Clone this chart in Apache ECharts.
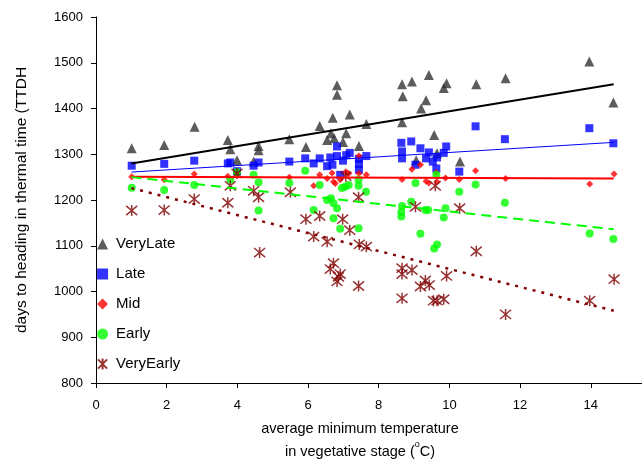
<!DOCTYPE html>
<html>
<head>
<meta charset="utf-8">
<script src="https://cdn.jsdelivr.net/npm/echarts@6/dist/echarts.min.js"></script>
<style>
html, body { margin: 0; padding: 0; background: #fff; }
#chart { width: 642px; height: 459px; }
</style>
</head>
<body>
<div id="chart"></div>
<script>
// points: [avg min temperature, days to heading (TTDH)]
var veryLate = [[1.01,1313],[1.93,1320],[2.79,1360],[3.73,1331],[3.80,1311],[3.99,1287],[4.46,1284],[4.6,1318],[4.6,1309],[5.47,1333],[5.94,1316],[6.33,1362],[6.70,1380],[6.82,1451],[6.82,1430],[6.65,1346],[6.74,1335],[6.54,1331],[6.99,1327],[7.08,1346],[7.18,1387],[7.44,1318],[7.65,1366],[8.66,1453],[8.68,1427],[8.66,1370],[8.94,1459],[9.42,1473],[9.92,1455],[9.84,1445],[9.34,1418],[9.2,1400],[9.57,1342],[9.06,1287],[9.65,1302],[10.3,1284],[10.76,1453],[11.59,1466],[13.96,1503],[14.64,1413]];
var late = [[1.01,1275],[1.93,1279],[2.78,1286],[3.73,1280],[3.80,1282],[3.99,1263],[4.46,1275],[4.6,1282],[5.47,1284],[5.92,1291],[6.16,1280],[6.33,1291],[6.54,1274],[6.63,1293],[6.69,1277],[6.82,1317],[6.82,1296],[6.99,1286],[7.08,1298],[7.18,1303],[6.91,1255],[7.44,1279],[7.44,1290],[7.44,1266],[7.65,1296],[8.64,1325],[8.66,1306],[8.66,1291],[8.92,1328],[9.18,1313],[9.04,1277],[9.34,1291],[9.42,1304],[9.53,1284],[9.65,1293],[9.63,1269],[9.84,1303],[9.91,1317],[10.28,1262],[10.74,1361],[11.57,1333],[13.96,1357],[14.64,1324]];
var mid = [[1.01,1251],[1.93,1244],[2.78,1257],[3.73,1252],[3.99,1258],[5.47,1250],[6.16,1231],[6.33,1255],[6.54,1247],[6.68,1259],[6.72,1240],[6.77,1236],[6.91,1244],[7.07,1262],[7.15,1258],[7.44,1258],[7.44,1296],[7.65,1255],[8.66,1245],[8.94,1267],[9.18,1277],[9.34,1241],[9.42,1237],[9.65,1240],[9.63,1260],[9.89,1248],[10.28,1245],[10.74,1264],[11.59,1247],[13.97,1235],[14.66,1257]];
var early = [[1.01,1227],[1.93,1222],[2.78,1233],[3.80,1244],[3.99,1261],[4.46,1255],[4.6,1239],[4.6,1177],[5.47,1237],[5.92,1264],[6.33,1233],[6.16,1178],[6.54,1200],[6.65,1204],[6.72,1193],[6.82,1182],[6.72,1160],[6.91,1137],[6.96,1226],[7.05,1229],[7.15,1233],[7.43,1244],[7.43,1231],[7.64,1218],[7.43,1138],[8.66,1187],[8.64,1174],[8.64,1164],[8.92,1196],[9.04,1237],[9.32,1178],[9.4,1178],[9.63,1255],[9.89,1182],[9.84,1162],[9.18,1126],[9.65,1103],[9.57,1094],[10.28,1218],[10.74,1234],[11.57,1194],[13.97,1127],[14.64,1115]];
var veryEarly = [[1.01,1177],[1.93,1178],[2.78,1202],[3.73,1194],[3.80,1231],[3.99,1258],[4.46,1220],[4.6,1206],[4.63,1085],[5.5,1217],[5.94,1158],[6.33,1165],[6.16,1120],[6.54,1109],[6.98,1158],[7.18,1134],[7.07,1252],[7.43,1206],[7.45,1103],[7.65,1098],[6.72,1062],[6.63,1049],[6.91,1038],[6.82,1022],[6.86,1032],[7.43,1012],[8.66,1051],[8.66,1038],[8.94,1047],[9.32,1024],[9.18,1011],[9.43,1014],[9.92,1034],[8.66,985],[9.55,980],[9.65,980],[9.84,983],[9.6,1231],[9.04,1185],[10.29,1182],[10.76,1088],[11.59,950],[13.97,980],[14.66,1027]];

// trend line ends (start / end of each fitted line)
var trendX = [1.0, 14.65];
var veryLateTrend = [1280, 1453];
var lateTrend = [1261, 1326];
var midTrend = [1251, 1247];
var earlyTrend = [1250, 1136];
var veryEarlyTrend = [1226, 958];

var seriesNames = ['VeryLate', 'Late', 'Mid', 'Early', 'VeryEarly'];

function trendData(ys){
	var out = [];
	trendX.forEach(function(x, i){ out.push([x, ys[i]]); });
	return out;
}

var font = 'Liberation Sans, Arial, sans-serif';
var starPath = 'path://M0,0L10,10M10,0L0,10M5,-1L5,11';

var chart = echarts.init(document.getElementById('chart'));

var option = {
	animation: false,
	backgroundColor: '#fff',
	grid: { left: 96, top: 17, right: 0, bottom: 76, outerBoundsMode: 'none', containLabel: false },
	legend: {
		data: seriesNames,
		orient: 'vertical',
		left: 92,
		top: 231,
		itemWidth: 11,
		itemHeight: 11,
		itemGap: 14,
		textStyle: { fontFamily: font, fontSize: 15, color: '#000', lineHeight: 16, padding: [0, 0, 0, 3] }
	},
	xAxis: {
		type: 'value',
		min: 0,
		max: 15.45,
		interval: 2,
		splitLine: { show: false },
		axisLine: { lineStyle: { color: '#000', width: 1 } },
		axisTick: { show: true, length: 5, lineStyle: { color: '#000' } },
		axisLabel: { margin: 16, fontFamily: font, fontSize: 13, color: '#000',
			formatter: function(v){ return v <= 14 ? String(v) : ''; } },
		name: 'average minimum temperature\nin vegetative stage ({sup|o}C)',
		nameLocation: 'middle',
		nameGap: 34,
		nameTextStyle: { fontFamily: font, fontSize: 14.5, color: '#000', lineHeight: 23, padding: [0, 18, 0, 0],
			rich: { sup: { fontFamily: font, fontSize: 9, verticalAlign: 'top', padding: [0, 0, 6, 0] } } }
	},
	yAxis: {
		type: 'value',
		min: 800,
		max: 1600,
		interval: 100,
		splitLine: { show: false },
		axisLine: { show: true, lineStyle: { color: '#000', width: 1 } },
		axisTick: { show: true, length: 5, lineStyle: { color: '#000' } },
		axisLabel: { margin: 13, fontFamily: font, fontSize: 13, color: '#000',
			formatter: function(v){ return String(v); } },
		name: 'days to heading in thermal time (TTDH',
		nameLocation: 'middle',
		nameGap: 66,
		nameTextStyle: { fontFamily: font, fontSize: 15.5, color: '#000' }
	},
	series: [
		{ name: 'VeryLate', type: 'scatter', data: veryLate, symbol: 'triangle', symbolSize: 10,
			itemStyle: { color: '#333333' } },
		{ name: 'Late', type: 'scatter', data: late, symbol: 'rect', symbolSize: 8,
			itemStyle: { color: '#0000ff' } },
		{ name: 'Mid', type: 'scatter', data: mid, symbol: 'diamond', symbolSize: 7,
			itemStyle: { color: '#ff0000' } },
		{ name: 'Early', type: 'scatter', data: early, symbol: 'circle', symbolSize: 8,
			itemStyle: { color: '#00ff00' } },
		{ name: 'VeryEarly', type: 'scatter', data: veryEarly, symbol: starPath, symbolSize: 11,
			itemStyle: { color: 'transparent', borderColor: '#800000', borderWidth: 1.5 } },
		// fitted trend lines
		{ name: 'VeryLateTrend', type: 'line', data: trendData(veryLateTrend), symbol: 'none', z: 3,
			lineStyle: { color: '#000', width: 2 } },
		{ name: 'LateTrend', type: 'line', data: trendData(lateTrend), symbol: 'none', z: 3,
			lineStyle: { color: '#0000ff', width: 1 } },
		{ name: 'MidTrend', type: 'line', data: trendData(midTrend), symbol: 'none', z: 3,
			lineStyle: { color: '#ff0000', width: 2 } },
		{ name: 'EarlyTrend', type: 'line', data: trendData(earlyTrend), symbol: 'none', z: 3,
			lineStyle: { color: '#00ff00', width: 2, type: [10, 6] } },
		{ name: 'VeryEarlyTrend', type: 'line', data: trendData(veryEarlyTrend), symbol: 'none', z: 3,
			lineStyle: { color: '#800000', width: 2.5, type: [3, 6] } }
	]
};
chart.setOption(option);
</script>
</body>
</html>
